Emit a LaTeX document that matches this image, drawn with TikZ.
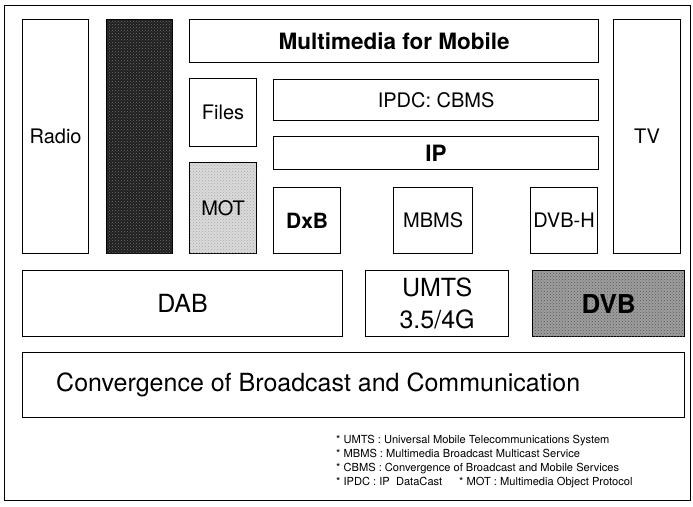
\documentclass[tikz,border=0pt]{standalone}
\usepackage{fontspec}
\setmainfont{TeX Gyre Heros}
\usetikzlibrary{patterns}
\begin{document}
\begin{tikzpicture}[x=1pt,y=-1pt,
  box/.style={draw=black, line width=1.2pt, fill=white, anchor=north west,
    inner sep=0pt, align=center, font=\fontsize{20}{23}\selectfont},
  big/.style={font=\fontsize{25}{32}\selectfont},
  bigbold/.style={font=\fontsize{26}{30}\selectfont\bfseries},
  midbold/.style={font=\fontsize{21}{24}\selectfont\bfseries},
  headbold/.style={font=\fontsize{22.5}{26}\selectfont\bfseries},
  speckle/.style={pattern=crosshatch dots, pattern color=#1},
  note/.style={anchor=north west, align=left, inner sep=0pt,
    font=\fontsize{11.1}{14}\selectfont}]
\useasboundingbox (0,0) rectangle (693,506);
% outer frame
\draw[line width=0.9pt] (4,5) rectangle (690,500);
% left and right columns
\node[box, minimum width=66pt, minimum height=234pt] (radio) at (22,19) {Radio};
\node[box, fill=black!88, minimum width=66pt, minimum height=234pt] (dark) at (106,19) {};
\fill[speckle=black!55] ([shift={(1,1)}]dark.north west) rectangle ([shift={(-1,-1)}]dark.south east);
\node[box, minimum width=67pt, minimum height=234pt] (tv) at (613,19) {TV};
% upper stack
\node[box, headbold, minimum width=409pt, minimum height=43pt] (mm) at (189,19) {Multimedia for Mobile};
\node[box, minimum width=67pt, minimum height=68pt] (files) at (189,78) {Files};
\node[box, minimum width=325pt, minimum height=41pt] (ipdc) at (273,79) {IPDC: CBMS};
\node[box, headbold, minimum width=325pt, minimum height=33pt] (ip) at (273,136) {IP};
\node[box, fill=black!14, minimum width=67pt, minimum height=91pt] (mot) at (189,162) {};
\fill[speckle=black!35] ([shift={(1,1)}]mot.north west) rectangle ([shift={(-1,-1)}]mot.south east);
\node[font=\fontsize{20}{23}\selectfont, inner sep=0pt] (mottext) at (mot.center) {MOT};
\node[box, midbold, minimum width=67pt, minimum height=66pt] (dxb) at (273,187) {DxB};
\node[box, minimum width=79pt, minimum height=66pt] (mbms) at (393,187) {MBMS};
\node[box, minimum width=67pt, minimum height=66pt] (dvbh) at (530,187) {DVB-H};
% network row
\node[box, big, minimum width=320pt, minimum height=66pt] (dab) at (22,270) {DAB};
\node[box, big, minimum width=143pt, minimum height=66pt] (umts) at (365,270) {UMTS\\3.5/4G};
\node[box, fill=black!38, minimum width=152pt, minimum height=66pt] (dvb) at (532,270) {};
\fill[speckle=black!65] ([shift={(1,1)}]dvb.north west) rectangle ([shift={(-1,-1)}]dvb.south east);
\node[bigbold, inner sep=0pt] (dvbtext) at (dvb.center) {DVB};
% base layer
\node[box, minimum width=662pt, minimum height=65pt] (conv) at (22,352) {};
\node[big, anchor=west, inner sep=0pt] (convtext) at ([xshift=34pt]conv.west) {Convergence of Broadcast and Communication};
% abbreviations
\node[note] (notes) at (336,435) {* UMTS : Universal Mobile Telecommunications System\\
* MBMS : Multimedia Broadcast Multicast Service\\
* CBMS : Convergence of Broadcast and Mobile Services\\
* IPDC : IP\ \ DataCast\hspace{17pt}* MOT : Multimedia Object Protocol};
\end{tikzpicture}
\end{document}
